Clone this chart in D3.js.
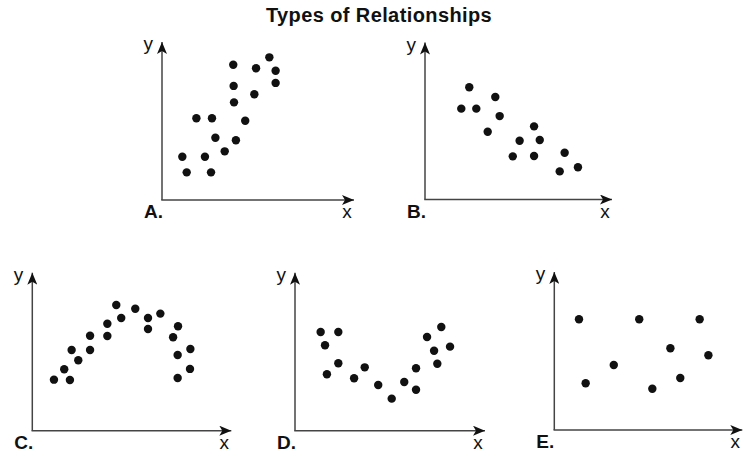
<!DOCTYPE html>
<html>
<head>
<meta charset="utf-8">
<script src="https://cdn.jsdelivr.net/npm/d3@7"></script>
<style>
	body { margin: 0; background: #fff; }
	#chart { width: 746px; height: 456px; }
	text { font-family: "Liberation Sans", Arial, Helvetica, sans-serif; fill: #111; }
</style>
</head>
<body>
<div id="chart"></div>
<script>
// data, in units 0..100 along each axis
var panelLabels = ["A.", "B.", "C.", "D.", "E."];

var dataA = [
	[10.7, 27.4], [13.0, 17.5], [18.1, 51.7], [22.6, 27.4], [25.8, 17.5], [26.3, 51.7],
	[28.1, 39.4], [33.0, 30.8], [38.9, 37.8], [43.8, 50.2], [37.9, 61.8], [37.7, 72.2],
	[37.5, 85.6], [48.6, 66.9], [49.5, 83.4], [56.5, 90.3], [59.8, 81.8], [59.8, 74.1]
];
var dataB = [
	[23.3, 71.0], [19.1, 57.5], [27.0, 57.5], [37.0, 64.9], [39.3, 52.8], [33.0, 42.9],
	[57.4, 46.3], [49.8, 37.2], [60.4, 37.7], [46.2, 27.3], [57.4, 27.5], [73.5, 29.6],
	[70.9, 17.8], [80.5, 20.4]
];
var dataC = [
	[11.4, 32.3], [19.8, 32.1], [16.8, 38.9], [24.2, 44.6], [20.7, 51.1], [30.4, 51.1],
	[30.4, 60.1], [39.5, 59.9], [39.5, 67.7], [46.8, 71.3], [44.2, 79.6], [54.2, 77.2],
	[60.9, 71.3], [60.9, 64.4], [67.4, 74.1], [76.7, 66.1], [74.1, 59.1], [83.2, 51.7],
	[76.5, 47.9], [83.0, 39.1], [76.5, 33.4]
];
var dataD = [
	[13.5, 62.5], [22.8, 62.5], [15.8, 54.1], [22.8, 42.7], [16.8, 35.7], [31.1, 33.2],
	[36.7, 40.1], [43.8, 28.9], [50.9, 20.3], [57.5, 30.8], [63.7, 25.9], [63.7, 39.5],
	[69.5, 59.3], [77.0, 65.6], [73.2, 50.6], [81.6, 53.2], [74.9, 42.4]
];
var dataE = [
	[13.0, 70.1], [44.7, 70.1], [76.5, 70.1], [61.1, 51.7], [81.1, 47.3], [31.3, 41.1],
	[16.5, 29.6], [66.3, 32.9], [51.6, 26.1]
];

var allData = [dataA, dataB, dataC, dataD, dataE];

// layout: axis origin and arrow lengths of each small plot
var layout = [
	{ ox: 162, oy: 200, len: 192, hgt: 158 },
	{ ox: 425, oy: 199.5, len: 187, hgt: 157 },
	{ ox: 32.3, oy: 430.7, len: 199, hgt: 158 },
	{ ox: 295, oy: 430.7, len: 190, hgt: 158 },
	{ ox: 554.3, oy: 430, len: 188, hgt: 158 }
];

var width = 746, height = 456;

var svg = d3.select("#chart")
	.append("svg")
	.attr("width", width)
	.attr("height", height);

var defs = svg.append("defs");
defs.append("marker")
	.attr("id", "arrow")
	.attr("viewBox", "0 0 12 10")
	.attr("refX", 12)
	.attr("refY", 5)
	.attr("markerUnits", "userSpaceOnUse")
	.attr("markerWidth", 13)
	.attr("markerHeight", 10)
	.attr("orient", "auto")
	.append("path")
	.attr("d", "M0,0 L12,5 L0,10 L3,5 Z")
	.attr("fill", "#111");

svg.append("text")
	.attr("x", 379)
	.attr("y", 22)
	.attr("text-anchor", "middle")
	.attr("font-weight", "bold")
	.attr("font-size", 20)
	.attr("letter-spacing", 0.4)
	.text("Types of Relationships");

allData.forEach(function(data, i) {
	var p = layout[i];
	var g = svg.append("g");

	var xScale = d3.scaleLinear().domain([0, 100]).range([p.ox, p.ox + 190]);
	var yScale = d3.scaleLinear().domain([0, 100]).range([p.oy, p.oy - 158]);

	// y axis
	g.append("line")
		.attr("x1", p.ox).attr("y1", p.oy)
		.attr("x2", p.ox).attr("y2", p.oy - p.hgt)
		.attr("stroke", "#444")
		.attr("stroke-width", 1.5)
		.attr("marker-end", "url(#arrow)");
	// x axis
	g.append("line")
		.attr("x1", p.ox - 0.75).attr("y1", p.oy)
		.attr("x2", p.ox + p.len).attr("y2", p.oy)
		.attr("stroke", "#444")
		.attr("stroke-width", 1.5)
		.attr("marker-end", "url(#arrow)");

	g.append("text")
		.attr("x", p.ox - 9)
		.attr("y", p.oy - p.hgt + 8)
		.attr("text-anchor", "end")
		.attr("font-size", 19)
		.text("y");
	g.append("text")
		.attr("x", p.ox + p.len - 7)
		.attr("y", p.oy + 18)
		.attr("text-anchor", "middle")
		.attr("font-size", 19)
		.text("x");
	g.append("text")
		.attr("x", p.ox - 18)
		.attr("y", p.oy + 18)
		.attr("font-weight", "bold")
		.attr("font-size", 19)
		.text(panelLabels[i]);

	g.selectAll("circle")
		.data(data)
		.enter()
		.append("circle")
		.attr("cx", function(d) { return xScale(d[0]); })
		.attr("cy", function(d) { return yScale(d[1]); })
		.attr("r", 4.2)
		.attr("fill", "#111");
});
</script>
</body>
</html>
